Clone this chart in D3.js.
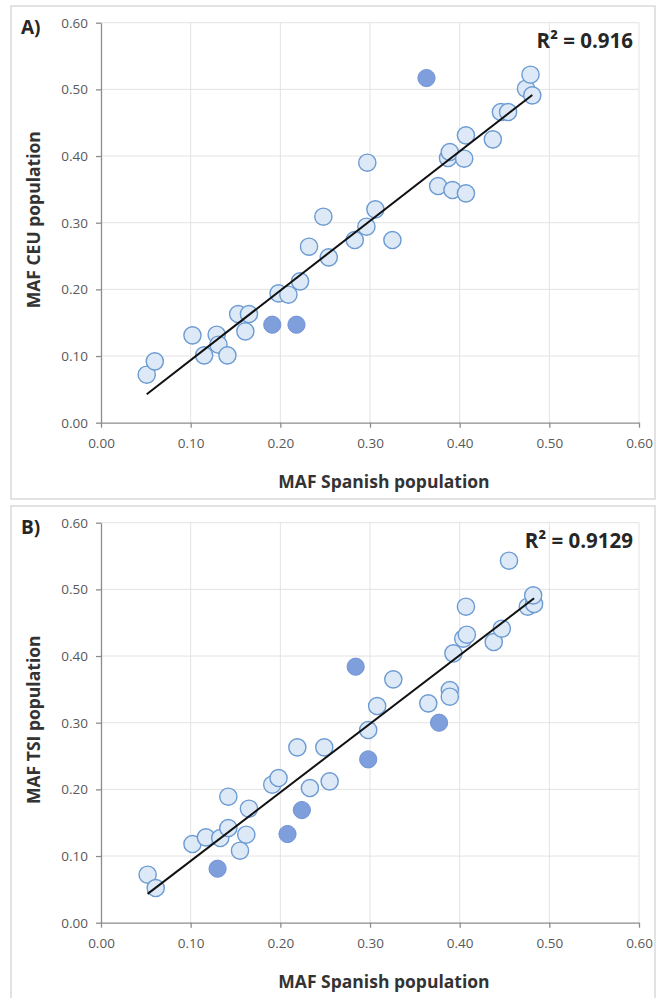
<!DOCTYPE html>
<html>
<head>
<meta charset="utf-8">
<script src="https://cdn.jsdelivr.net/npm/d3@7"></script>
<style>
  body { margin: 0; background: #fff; }
  svg { display: block; }
  .tick text { font-family: "Open Sans", sans-serif; font-size: 13.5px; fill: #595959; }
  .title { font-family: "Open Sans", sans-serif; font-weight: bold; fill: #262626; }
</style>
</head>
<body>
<div id="chart"></div>
<script>
var width = 660,
    height = 998;

// panel A: Spanish vs CEU minor allele frequencies
var ceuLight = [
  [0.051, 0.072], [0.060, 0.092], [0.102, 0.131], [0.115, 0.101], [0.129, 0.132],
  [0.131, 0.117], [0.141, 0.101], [0.153, 0.163], [0.161, 0.137], [0.165, 0.163],
  [0.198, 0.194], [0.209, 0.192], [0.222, 0.212], [0.232, 0.264], [0.248, 0.309],
  [0.254, 0.248], [0.283, 0.274], [0.296, 0.294], [0.297, 0.390], [0.306, 0.320],
  [0.325, 0.274], [0.376, 0.355], [0.387, 0.397], [0.389, 0.406], [0.392, 0.349],
  [0.405, 0.396], [0.407, 0.344], [0.407, 0.431], [0.437, 0.425], [0.446, 0.466],
  [0.454, 0.466], [0.474, 0.501], [0.479, 0.522], [0.481, 0.491]
];
var ceuDark = [[0.191, 0.147], [0.218, 0.147], [0.363, 0.517]];
var ceuTrend = [1.044, -0.0105];   // slope, intercept
var ceuR2 = "R\u00b2 = 0.916";

// panel B: Spanish vs TSI minor allele frequencies
var tsiLight = [
  [0.052, 0.072], [0.061, 0.052], [0.102, 0.118], [0.117, 0.128], [0.133, 0.127],
  [0.142, 0.142], [0.142, 0.189], [0.155, 0.108], [0.162, 0.132], [0.165, 0.171],
  [0.191, 0.207], [0.198, 0.217], [0.219, 0.263], [0.233, 0.202], [0.249, 0.263],
  [0.255, 0.212], [0.298, 0.289], [0.308, 0.325], [0.326, 0.365], [0.365, 0.329],
  [0.389, 0.349], [0.389, 0.339], [0.393, 0.404], [0.404, 0.426], [0.408, 0.432],
  [0.407, 0.474], [0.438, 0.421], [0.447, 0.441], [0.455, 0.543], [0.476, 0.474],
  [0.483, 0.478], [0.482, 0.491]
];
var tsiDark = [[0.130, 0.081], [0.208, 0.133], [0.224, 0.169], [0.284, 0.384], [0.298, 0.245], [0.377, 0.300]];
var tsiTrend = [1.029, -0.0103];
var tsiR2 = "R\u00b2 = 0.9129";

var tickValues = [0, 0.1, 0.2, 0.3, 0.4, 0.5, 0.6];
var fmt = d3.format(".2f");

var svg = d3.select("#chart").append("svg")
    .attr("width", width)
    .attr("height", height);

function drawPanel(opts) {
    var g = svg.append("g").attr("transform", "translate(0," + opts.top + ")");

    // frame around the panel
    g.append("rect")
        .attr("x", 11).attr("y", 0)
        .attr("width", 644).attr("height", opts.frameH)
        .attr("fill", "#fff")
        .attr("stroke", "#d9d9d9")
        .attr("stroke-width", 1.5);

    var x = d3.scaleLinear().domain([0, 0.6]).range([101, 639]);
    var y = d3.scaleLinear().domain([0, 0.6]).range([416.7, 16.7]);

    // gridlines
    g.append("g").selectAll("line.h")
        .data(tickValues.slice(1))
        .enter().append("line")
        .attr("x1", x(0)).attr("x2", x(0.6))
        .attr("y1", function(d) { return y(d); })
        .attr("y2", function(d) { return y(d); })
        .attr("stroke", "#e3e3e3");
    g.append("g").selectAll("line.v")
        .data(tickValues.slice(1))
        .enter().append("line")
        .attr("y1", y(0)).attr("y2", y(0.6))
        .attr("x1", function(d) { return x(d); })
        .attr("x2", function(d) { return x(d); })
        .attr("stroke", "#e3e3e3");

    var yAxis = g.append("g")
        .attr("transform", "translate(" + x(0) + ",0)")
        .call(d3.axisLeft(y).tickValues(tickValues).tickFormat(fmt)
            .tickSize(5).tickSizeOuter(0).tickPadding(8));
    var xAxis = g.append("g")
        .attr("transform", "translate(0," + y(0) + ")")
        .call(d3.axisBottom(x).tickValues(tickValues).tickFormat(fmt)
            .tickSize(5).tickSizeOuter(0).tickPadding(11));
    [xAxis, yAxis].forEach(function(a) {
        a.select(".domain").attr("stroke", "#8c8c8c").attr("stroke-width", 1.3);
        a.selectAll(".tick line").attr("stroke", "#8c8c8c").attr("stroke-width", 1.3);
        a.selectAll(".tick text").attr("font-family", null).attr("font-size", null);
    });

    // points: light series first, highlighted ones on top
    g.append("g").selectAll("circle")
        .data(opts.light)
        .enter().append("circle")
        .attr("cx", function(d) { return x(d[0]); })
        .attr("cy", function(d) { return y(d[1]); })
        .attr("r", 8.6)
        .attr("fill", "#dde9f6")
        .attr("stroke", "#6b9bd2")
        .attr("stroke-width", 1.4);
    g.append("g").selectAll("circle")
        .data(opts.dark)
        .enter().append("circle")
        .attr("cx", function(d) { return x(d[0]); })
        .attr("cy", function(d) { return y(d[1]); })
        .attr("r", 8.6)
        .attr("fill", "#7f9edc")
        .attr("stroke", "#7393d6")
        .attr("stroke-width", 1);

    // linear trendline over the x range of the data
    var all = opts.light.concat(opts.dark);
    var xr = d3.extent(all, function(d) { return d[0]; });
    var line = d3.line()
        .x(function(d) { return x(d); })
        .y(function(d) { return y(opts.trend[0] * d + opts.trend[1]); });
    g.append("path")
        .datum(xr)
        .attr("d", line)
        .attr("fill", "none")
        .attr("stroke", "#111")
        .attr("stroke-width", 2);

    // labels
    g.append("text").attr("class", "title")
        .attr("x", 21).attr("y", 28)
        .style("font-size", "19px")
        .text(opts.label);
    g.append("text").attr("class", "title")
        .attr("x", 633).attr("y", 42)
        .attr("text-anchor", "end")
        .style("font-size", "20.5px")
        .text(opts.r2);
    g.append("text").attr("class", "title")
        .attr("x", 384).attr("y", y(0) + 65)
        .attr("text-anchor", "middle")
        .style("font-size", "17.5px")
        .style("fill", "#333")
        .text("MAF Spanish population");
    g.append("text").attr("class", "title")
        .attr("transform", "translate(40," + (y(0.3) - 3) + ") rotate(-90)")
        .attr("text-anchor", "middle")
        .style("font-size", "17.5px")
        .style("fill", "#333")
        .text(opts.yTitle);
}

drawPanel({ top: 6, frameH: 493, label: "A)", r2: ceuR2, yTitle: "MAF CEU population",
            light: ceuLight, dark: ceuDark, trend: ceuTrend });
drawPanel({ top: 506, frameH: 500, label: "B)", r2: tsiR2, yTitle: "MAF TSI population",
            light: tsiLight, dark: tsiDark, trend: tsiTrend });
</script>
</body>
</html>
